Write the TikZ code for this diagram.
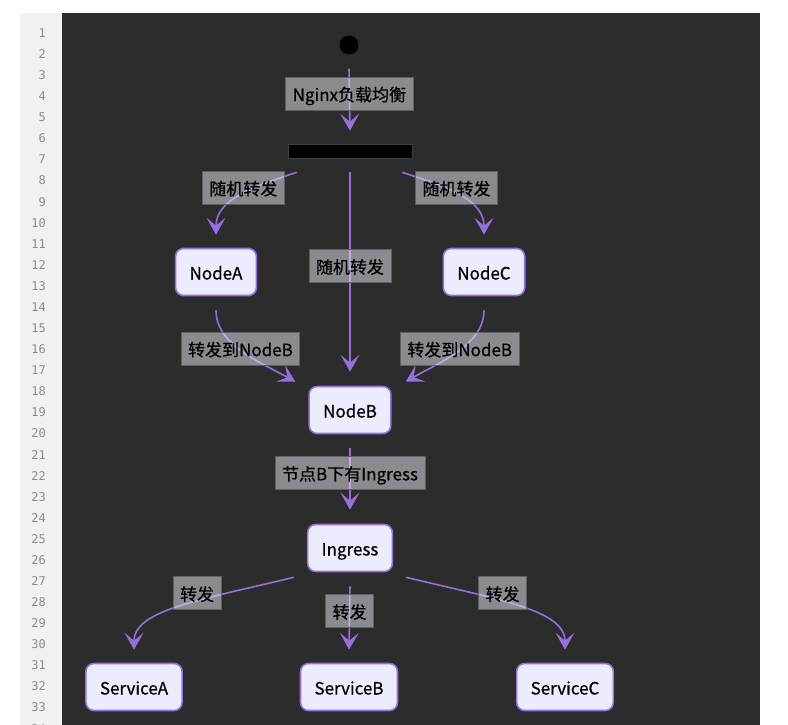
\documentclass[tikz,border=0pt]{standalone}
\usepackage{fontspec}
\setmainfont{Noto Sans CJK SC}[FakeBold=0.5]
\newfontfamily\gutterfont{DejaVu Sans Mono}
\usetikzlibrary{arrows.meta}
\definecolor{canvas}{RGB}{44,44,44}
\definecolor{gutter}{RGB}{238,242,243}
\definecolor{numgray}{RGB}{140,140,140}
\definecolor{purp}{RGB}{147,112,219}
\definecolor{lav}{RGB}{236,236,255}
\definecolor{tagfill}{RGB}{233,233,243}
\definecolor{tagline}{RGB}{95,95,100}

\begin{document}
\begin{tikzpicture}[>={Stealth[length=17pt,width=19pt,inset=8pt]},x=1pt,y=-1pt,
    box/.style={draw=purp,fill=lav,line width=1.6pt,rounded corners=8pt,
      minimum height=47pt,inner xsep=14pt,text height=15pt,text depth=0pt,
      font=\fontsize{17}{20}\selectfont},
    tag/.style={fill=tagfill,fill opacity=0.5,draw=tagline,draw opacity=1,
      text opacity=1,line width=0.8pt,minimum height=33pt,inner xsep=7pt,
      text height=15pt,text depth=0pt,font=\fontsize{17}{20}\selectfont},
    flow/.style={->,draw=purp,line width=1.6pt},
    lineno/.style={anchor=east,inner sep=0pt,text=numgray,
      font=\gutterfont\fontsize{12}{14}\selectfont},
  ]
    \useasboundingbox (0,0) rectangle (788,725);
    \fill[white] (0,0) rectangle (788,725);
    \fill[gutter] (20,13) rectangle (62,725);
    \fill[canvas] (62,13) rectangle (760,725);
    \foreach \n in {1,...,34}
      \node[lineno] (ln\n) at (46,{33+21.08*(\n-1)}) {\n};

    \node[circle,fill=black,minimum size=19pt,inner sep=0pt] (init) at (349,45) {};
    \node[fill=black,draw=black!75!white,line width=0.6pt,minimum width=124pt,
      minimum height=14pt,inner sep=0pt] (fork) at (350,151) {};
    \node[box] (nodeA) at (216,272) {NodeA};
    \node[box] (nodeC) at (484,272) {NodeC};
    \node[box] (nodeB) at (350,410) {NodeB};
    \node[box] (ingress) at (350,548) {Ingress};
    \node[box] (svcA) at (134,687) {ServiceA};
    \node[box] (svcB) at (349,687) {ServiceB};
    \node[box] (svcC) at (565,687) {ServiceC};

    \draw[flow] ([yshift=-14pt]init.south) -- ([yshift=13pt]fork.north)
      node[tag,pos=0.4] (lbInit) {Nginx负载均衡};
    \draw[flow] ([shift={(9pt,-14pt)}]fork.south west)
      .. controls (250,188) and (216,200) .. ([yshift=13pt]nodeA.north)
      node[tag,pos=0.45,yshift=6pt] (lbForkA) {随机转发};
    \draw[flow] ([yshift=-14pt]fork.south) -- ([yshift=14pt]nodeB.north)
      node[tag,pos=0.47] (lbForkB) {随机转发};
    \draw[flow] ([shift={(-10pt,-14pt)}]fork.south east)
      .. controls (450,188) and (484,200) .. ([yshift=13pt]nodeC.north)
      node[tag,pos=0.45,yshift=6pt] (lbForkC) {随机转发};
    \draw[flow] ([yshift=-14pt]nodeA.south)
      .. controls (216,345) and (260,362) .. ([shift={(-13pt,4pt)}]nodeB.north west)
      node[tag,pos=0.5,xshift=-2pt,yshift=3pt] (lbAB) {转发到NodeB};
    \draw[flow] ([yshift=-14pt]nodeC.south)
      .. controls (484,345) and (440,362) .. ([shift={(14pt,4pt)}]nodeB.north east)
      node[tag,pos=0.5,xshift=2pt,yshift=3pt] (lbCB) {转发到NodeB};
    \draw[flow] ([yshift=-14pt]nodeB.south) -- ([yshift=14pt]ingress.north)
      node[tag,pos=0.4] (lbBI) {节点B下有Ingress};
    \draw[flow] ([shift={(-13pt,-5pt)}]ingress.south west)
      .. controls (200,600) and (134,610) .. ([yshift=13pt]svcA.north)
      node[tag,pos=0.4,yshift=8pt] (lbSA) {转发};
    \draw[flow] ([yshift=-14pt]ingress.south) -- ([yshift=13pt]svcB.north)
      node[tag,pos=0.39] (lbSB) {转发};
    \draw[flow] ([shift={(13pt,-5pt)}]ingress.south east)
      .. controls (500,600) and (565,610) .. ([yshift=13pt]svcC.north)
      node[tag,pos=0.4,yshift=8pt] (lbSC) {转发};
  \end{tikzpicture}
\end{document}
